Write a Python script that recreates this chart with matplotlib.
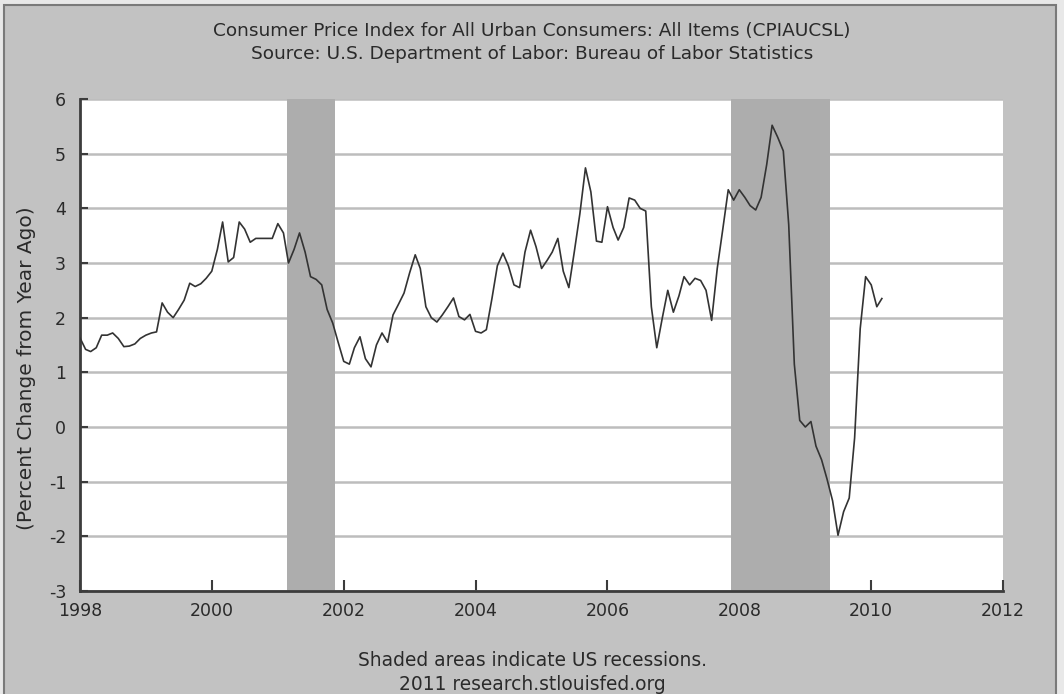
import matplotlib
matplotlib.use("Agg")
import matplotlib.pyplot as plt
import matplotlib.dates as mdates
from matplotlib.patches import Rectangle
import pandas as pd

plt.rcParams["axes.unicode_minus"] = False

# CPI, percent change from a year ago, monthly Jan 1998 - Mar 2010
cpi_1998 = [1.63, 1.42, 1.38, 1.45, 1.68, 1.68, 1.72, 1.62, 1.47, 1.48, 1.52, 1.62]
cpi_1999 = [1.68, 1.72, 1.74, 2.27, 2.10, 2.00, 2.15, 2.32, 2.63, 2.57, 2.62, 2.72]
cpi_2000 = [2.85, 3.25, 3.75, 3.02, 3.10, 3.75, 3.62, 3.38, 3.45, 3.45, 3.45, 3.45]
cpi_2001 = [3.72, 3.55, 3.00, 3.25, 3.55, 3.20, 2.75, 2.70, 2.60, 2.15, 1.90, 1.55]
cpi_2002 = [1.20, 1.15, 1.45, 1.65, 1.25, 1.10, 1.50, 1.72, 1.55, 2.05, 2.25, 2.45]
cpi_2003 = [2.82, 3.15, 2.90, 2.20, 2.00, 1.92, 2.05, 2.20, 2.36, 2.02, 1.96, 2.06]
cpi_2004 = [1.75, 1.72, 1.78, 2.35, 2.95, 3.18, 2.95, 2.60, 2.55, 3.20, 3.60, 3.30]
cpi_2005 = [2.90, 3.05, 3.20, 3.45, 2.85, 2.55, 3.20, 3.90, 4.74, 4.30, 3.40, 3.38]
cpi_2006 = [4.03, 3.65, 3.42, 3.65, 4.19, 4.15, 4.00, 3.95, 2.20, 1.45, 2.00, 2.50]
cpi_2007 = [2.10, 2.40, 2.75, 2.60, 2.72, 2.68, 2.50, 1.95, 2.90, 3.60, 4.34, 4.15]
cpi_2008 = [4.34, 4.20, 4.05, 3.97, 4.20, 4.80, 5.52, 5.30, 5.05, 3.70, 1.15, 0.12]
cpi_2009 = [0.00, 0.10, -0.35, -0.60, -0.95, -1.35, -1.98, -1.55, -1.30, -0.20, 1.80, 2.75]
cpi_2010 = [2.60, 2.20, 2.35]

values = (cpi_1998 + cpi_1999 + cpi_2000 + cpi_2001 + cpi_2002 + cpi_2003 + cpi_2004
          + cpi_2005 + cpi_2006 + cpi_2007 + cpi_2008 + cpi_2009 + cpi_2010)
dates = pd.date_range("1998-01-01", periods=len(values), freq="MS")

recessions = [("2001-02-20", "2001-11-15"), ("2007-11-15", "2009-05-20")]

bg = "#c2c2c2"
txt = "#2a2a2a"
fig = plt.figure(figsize=(10.64, 6.94), dpi=100)
fig.patch.set_facecolor("#e8e8e8")
frame = Rectangle((4 / 1064, -0.02), 1052 / 1064, 1 - 5 / 694 + 0.02,
                  transform=fig.transFigure, facecolor=bg,
                  edgecolor="#7a7a7a", linewidth=1.5, zorder=-10)
fig.patches.append(frame)

ax = fig.add_axes([80 / 1064, 1 - 591 / 694, 923 / 1064, 492 / 694])
ax.set_facecolor("white")

for start, end in recessions:
    ax.axvspan(pd.Timestamp(start), pd.Timestamp(end), color="#adadad", lw=0, zorder=2)

ax.plot(dates, values, color="#333333", linewidth=1.2, zorder=3)

ax.set_ylim(-3, 6)
ax.set_yticks(range(-3, 7))
ax.set_xlim(pd.Timestamp("1998-01-01"), pd.Timestamp("2012-01-01"))
ax.xaxis.set_major_locator(mdates.YearLocator(2))
ax.xaxis.set_major_formatter(mdates.DateFormatter("%Y"))

ax.grid(axis="y", color="#bdbdbd", linewidth=1.8, zorder=1)
ax.set_axisbelow(True)
for side in ["top", "right"]:
    ax.spines[side].set_visible(False)
for side in ["left", "bottom"]:
    ax.spines[side].set_color("#3c3c3c")
    ax.spines[side].set_linewidth(2)
ax.tick_params(axis="x", direction="in", length=8, width=1.5, color="#3c3c3c",
               labelsize=12.5, labelcolor=txt, pad=8)
ax.tick_params(axis="y", direction="in", length=6, width=1.5, color="#3c3c3c",
               labelsize=12.5, labelcolor=txt, pad=10)

fig.text(27 / 1064, 1 - 368 / 694, "(Percent Change from Year Ago)", rotation=90,
         ha="center", va="center", fontsize=14.5, color=txt)

fig.text(0.5, 1 - 31 / 694, "Consumer Price Index for All Urban Consumers: All Items (CPIAUCSL)",
         ha="center", va="center", fontsize=13.3, color=txt)
fig.text(0.5, 1 - 54 / 694, "Source: U.S. Department of Labor: Bureau of Labor Statistics",
         ha="center", va="center", fontsize=13.3, color=txt)
fig.text(0.5, 1 - 661 / 694, "Shaded areas indicate US recessions.",
         ha="center", va="center", fontsize=13.4, color=txt)
fig.text(0.5, 1 - 684 / 694, "2011 research.stlouisfed.org",
         ha="center", va="center", fontsize=13.4, color=txt)

fig.savefig("out.png", dpi=100, facecolor=fig.get_facecolor())
